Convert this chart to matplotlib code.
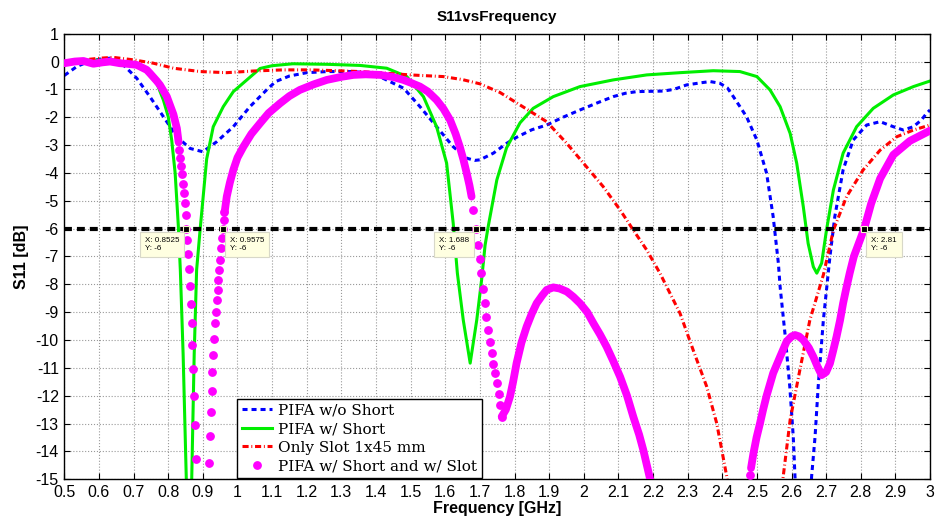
import matplotlib
matplotlib.use("Agg")
import matplotlib.pyplot as plt
import numpy as np

nan = np.nan

# PIFA w/o Short
blue_f = [0.50, 0.536, 0.57, 0.60, 0.632, 0.66, 0.68, 0.709, 0.747, 0.786, 0.825, 0.863,
          0.90, 0.94, 0.988, 1.036, 1.084, 1.11, 1.15, 1.20, 1.26, 1.33, 1.39, 1.44, 1.48,
          1.527, 1.575, 1.623, 1.662, 1.685, 1.70, 1.739, 1.777, 1.806, 1.85, 1.893, 1.94,
          1.989, 2.04, 2.085, 2.12, 2.153, 2.23, 2.26, 2.297, 2.34, 2.365, 2.393, 2.415,
          2.432, 2.45, 2.47, 2.50, 2.528, 2.547, 2.562, 2.567, 2.581, 2.595, 2.605, 2.61,
          2.635, 2.658, 2.668, 2.677, 2.692, 2.706, 2.711, 2.725, 2.749, 2.778, 2.817,
          2.856, 2.894, 2.923, 2.952, 2.975, 2.99, 3.0]
blue_db = [-0.50, -0.18, 0.0, 0.08, 0.12, 0.0, -0.24, -0.60, -1.26, -1.98, -2.70, -3.12,
           -3.24, -2.88, -2.34, -1.62, -1.02, -0.72, -0.52, -0.40, -0.36, -0.36, -0.42, -0.72, -0.96,
           -1.62, -2.34, -3.06, -3.47, -3.55, -3.53, -3.29, -2.94, -2.72, -2.45, -2.28, -2.0,
           -1.74, -1.48, -1.26, -1.14, -1.08, -1.06, -1.0, -0.84, -0.76, -0.72, -0.78, -0.95,
           -1.26, -1.60, -1.98, -2.82, -4.01, -5.57, -7.24, -8.08, -9.76, -11.67, -13.47, -14.9,
           -20.0, -14.9, -13.47, -11.67, -9.28, -7.60, -7.0, -5.57, -3.89, -2.82, -2.28,
           -2.16, -2.34, -2.46, -2.34, -2.10, -1.86, -1.74]

# PIFA w/ Short
green_f = [0.50, 0.55, 0.60, 0.65, 0.70, 0.738, 0.767, 0.786, 0.80, 0.81, 0.82, 0.829,
           0.835, 0.843, 0.852, 0.86, 0.868, 0.875, 0.882, 0.892, 0.911, 0.93, 0.959, 0.988,
           1.027, 1.065, 1.10, 1.16, 1.26, 1.354, 1.431, 1.489, 1.537, 1.575, 1.604, 1.623,
           1.635, 1.652, 1.672, 1.691, 1.705, 1.715, 1.724, 1.749, 1.777, 1.816, 1.854,
           1.912, 1.989, 2.085, 2.182, 2.278, 2.374, 2.451, 2.50, 2.538, 2.567, 2.596,
           2.615, 2.634, 2.648, 2.663, 2.673, 2.687, 2.701, 2.721, 2.749, 2.788, 2.836,
           2.894, 2.952, 3.0]
green_db = [0.0, 0.05, 0.05, 0.05, -0.12, -0.36, -0.78, -1.38, -1.98, -2.82, -4.01, -5.87,
            -7.5, -10.5, -14.9, -22.0, -14.9, -10.5, -7.48, -6.05, -3.5, -2.34, -1.62, -1.08,
            -0.66, -0.25, -0.15, -0.08, -0.1, -0.14, -0.24, -0.54, -1.26, -2.34, -3.65, -5.81,
            -7.6, -9.28, -10.83, -9.28, -7.84, -6.6, -5.93, -4.25, -3.1, -2.2, -1.68,
            -1.26, -0.90, -0.66, -0.48, -0.40, -0.33, -0.36, -0.54, -1.02, -1.62, -2.58,
            -3.65, -5.21, -6.53, -7.37, -7.60, -7.24, -6.05, -4.61, -3.29, -2.34, -1.68,
            -1.20, -0.90, -0.70]

# Only Slot 1x45 mm
red_f = [0.50, 0.555, 0.603, 0.641, 0.70, 0.757, 0.815, 0.892, 0.969, 1.046, 1.132, 1.21,
         1.29, 1.354, 1.43, 1.498, 1.594, 1.65, 1.70, 1.758, 1.816, 1.893, 1.951, 2.008,
         2.056, 2.105, 2.143, 2.182, 2.22, 2.278, 2.316, 2.355, 2.384, 2.413, 2.50, 2.576,
         2.596, 2.624, 2.653, 2.692, 2.721, 2.759, 2.807, 2.856, 2.904, 2.952, 3.0]
red_db = [0.0, 0.06, 0.12, 0.15, 0.06, -0.06, -0.24, -0.36, -0.40, -0.34, -0.30, -0.30,
          -0.33, -0.36, -0.42, -0.48, -0.54, -0.65, -0.80, -1.11, -1.56, -2.16, -2.94, -3.78,
          -4.49, -5.33, -6.05, -6.77, -7.60, -9.04, -10.36, -11.67, -12.99, -14.9, -22.0, -14.9,
          -12.87, -11.08, -9.28, -7.66, -6.05, -4.85, -3.89, -3.18, -2.70, -2.46, -2.28]

# PIFA w/ Short and w/ Slot : dense parts (samples merge into a band)
mag_line_f = [0.50, 0.53, 0.555, 0.584, 0.61, 0.632, 0.66, 0.68, 0.709, 0.738, 0.747, 0.767,
              0.776, 0.796, 0.815, 0.825, 0.83, nan,
              0.963, 0.969, 0.978, 0.988, 1.0, 1.017, 1.04, 1.065, 1.09, 1.123, 1.15, 1.18,
              1.22, 1.258, 1.30, 1.335, 1.37, 1.412, 1.45, 1.479, 1.50, 1.527, 1.55, 1.575,
              1.595, 1.614, 1.63, 1.642, 1.652, 1.662, 1.67, 1.676, nan,
              1.763, 1.775, 1.787, 1.796, 1.806, 1.82, 1.835, 1.85, 1.864, 1.88, 1.893, 1.912,
              1.93, 1.951, 1.97, 1.989, 2.01, 2.028, 2.047, 2.066, 2.085, 2.105, 2.125, 2.143,
              2.16, 2.172, 2.191, 2.20, nan,
              2.483, 2.49, 2.499, 2.509, 2.518, 2.528, 2.547, 2.567, 2.586, 2.60, 2.61, 2.622,
              2.634, 2.65, 2.663, 2.675, 2.687, 2.70, 2.711, 2.72, 2.73, 2.74, 2.749, 2.758,
              2.768, 2.78, 2.795, 2.81, 2.83, 2.856, 2.894, 2.942, 3.0]
mag_line_db = [-0.06, 0.0, 0.02, -0.08, -0.03, 0.0, -0.06, -0.08, -0.12, -0.30, -0.42, -0.70,
               -0.84, -1.26, -1.9, -2.4, -2.9, nan,
               -5.4, -4.85, -4.35, -3.89, -3.45, -3.06, -2.6, -2.22, -1.85, -1.50, -1.24, -1.02,
               -0.82, -0.66, -0.55, -0.48, -0.46, -0.48, -0.56, -0.66, -0.76, -0.90, -1.08, -1.38,
               -1.70, -2.10, -2.6, -3.06, -3.5, -4.01, -4.45, -4.85, nan,
               -12.75, -12.5, -12.03, -11.5, -10.83, -10.1, -9.52, -9.05, -8.68, -8.4, -8.20, -8.11,
               -8.15, -8.26, -8.45, -8.68, -9.0, -9.40, -9.8, -10.24, -10.75, -11.32, -12.0, -12.75,
               -13.4, -13.95, -14.96, -15.5, nan,
               -14.6, -14.07, -13.5, -12.99, -12.5, -12.0, -11.19, -10.6, -10.05, -9.87, -9.82, -9.87,
               -10.0, -10.28, -10.60, -10.95, -11.26, -11.15, -10.84, -10.4, -9.88, -9.3, -8.68, -8.15,
               -7.60, -7.0, -6.5, -6.0, -5.1, -4.2, -3.35, -2.85, -2.48]

# PIFA w/ Short and w/ Slot : individual samples on the steep flanks
mag_dot_f = [0.8325, 0.835, 0.8375, 0.84, 0.8425, 0.845, 0.8475, 0.85, 0.8525, 0.855, 0.8575,
             0.86, 0.8625, 0.865, 0.8675, 0.87, 0.8725, 0.875, 0.8775, 0.88,
             0.9175, 0.92, 0.9225, 0.925, 0.9275, 0.93, 0.9325, 0.935, 0.9375, 0.94, 0.9425,
             0.945, 0.9475, 0.95, 0.9525, 0.955, 0.9575, 0.96, 0.9625,
             1.681, 1.688, 1.694, 1.699, 1.704, 1.709, 1.714, 1.719, 1.724, 1.729, 1.734,
             1.739, 1.744, 1.749, 1.754, 1.758, 1.763,
             2.48]
mag_dot_db = [-3.18, -3.45, -3.75, -4.05, -4.38, -4.72, -5.08, -5.5, -6.0, -6.4, -6.9,
              -7.46, -8.05, -8.71, -9.40, -10.19, -11.04, -12.02, -13.06, -14.26,
              -14.43, -13.45, -12.59, -11.82, -11.14, -10.53, -9.96, -9.40, -8.98, -8.56, -8.20,
              -7.84, -7.48, -7.12, -6.71, -6.33, -6.0, -5.7, -5.42,
              -5.33, -6.0, -6.6, -7.1, -7.6, -8.17, -8.68, -9.16, -9.64, -10.06, -10.48,
              -10.85, -11.2, -11.55, -11.95, -12.35, -12.75,
              -14.85]

# data cursors on the -6 dB line
tip_x = [0.8525, 0.9575, 1.688, 2.81]
tip_y = [-6, -6, -6, -6]
tip_labels = ["X: 0.8525\nY: -6", "X: 0.9575\nY: -6", "X: 1.688\nY: -6", "X: 2.81\nY: -6"]
tip_side = ["left", "right", "left", "right"]

ref_level = -6

plt.rcParams['font.family'] = ['Liberation Sans', 'DejaVu Sans']

fig = plt.figure(figsize=(9.38, 5.23), dpi=100)
ax = fig.add_axes([0.0686, 0.0836, 0.9229, 0.852])

ax.plot(blue_f, blue_db, color='#0000ff', lw=2.2, dashes=(1.65, 1.3), label='PIFA w/o Short')
ax.plot(green_f, green_db, color='#00ee00', lw=2.2, label='PIFA w/ Short')
ax.plot(red_f, red_db, color='#ff0000', lw=2.2, dashes=(2.0, 0.9, 0.3, 0.9), label='Only Slot 1x45 mm')
ax.plot(mag_line_f, mag_line_db, color='#ff00ff', lw=5.6, solid_capstyle='round', zorder=3)
ax.plot(mag_dot_f, mag_dot_db, 'o', color='#ff00ff', ms=5.3, mec='#ff00ff', zorder=3,
        label='PIFA w/ Short and w/ Slot')

ax.axhline(ref_level, color='k', lw=3, dashes=(1.9, 1.2), zorder=4)

for xv, yv, txt, side in zip(tip_x, tip_y, tip_labels, tip_side):
    ax.plot(xv, yv, 's', ms=4.5, mfc='k', mec='#f5f5c8', mew=0.8, zorder=6)
    if side == "left":
        off, ha = (-5, -6), 'right'
    else:
        off, ha = (5, -6), 'left'
    ax.annotate(txt, (xv, yv), xytext=off, textcoords='offset points', ha=ha, va='top',
                multialignment='left', fontsize=5.8, linespacing=1.25, zorder=7,
                bbox=dict(boxstyle='square,pad=0.6', fc='#ffffe1', ec='#d8d8c8', lw=0.8))

ax.set_xlim(0.5, 3)
ax.set_ylim(-15, 1)
xt = np.round(np.arange(0.5, 3.01, 0.1), 1)
ax.set_xticks(xt)
ax.set_xticklabels(['%g' % v for v in xt])
yt = np.arange(-15, 2, 1)
ax.set_yticks(yt)
ax.set_yticklabels(['%d' % v for v in yt])
ax.tick_params(direction='in', length=4, width=0.8, top=True, right=True, labelsize=11.5, pad=4)
ax.grid(True, color='0.6', linestyle=':', lw=0.8)
for s in ax.spines.values():
    s.set_linewidth(1.0)

ax.set_title('S11vsFrequency', fontsize=11, fontweight='bold', pad=9)
ax.set_xlabel('Frequency [GHz]', fontsize=11.5, fontweight='bold', labelpad=1)
ax.set_ylabel('S11 [dB]', fontsize=11.5, fontweight='bold', labelpad=5)

leg = ax.legend(loc='lower left', bbox_to_anchor=(0.1995, 0.003), borderaxespad=0,
                prop={'family': 'DejaVu Serif', 'size': 11}, fancybox=False,
                edgecolor='k', framealpha=1, labelspacing=0.3, handlelength=2.0,
                handletextpad=0.4, borderpad=0.3)
leg.get_frame().set_linewidth(1.0)

fig.savefig('out.png', dpi=100)
